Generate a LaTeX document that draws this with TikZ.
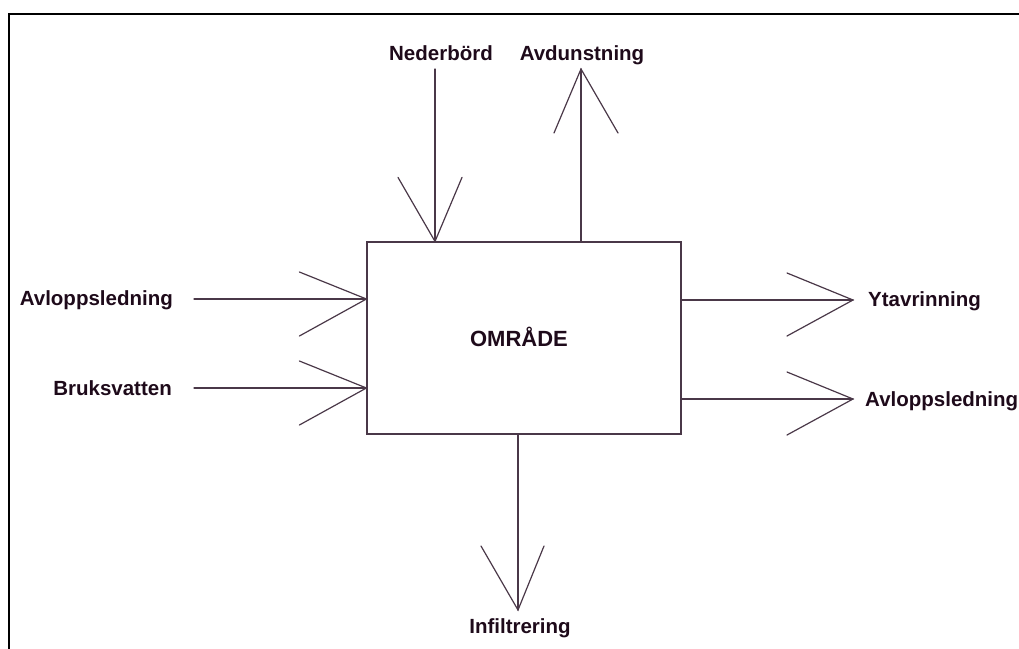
\documentclass[tikz,border=0pt]{standalone}
\usepackage{fontspec}
\setmainfont{Liberation Sans}
\definecolor{linec}{HTML}{4A3848}
\definecolor{textc}{HTML}{1E0A1A}
\tikzset{
  flow/.style={draw=linec, line width=1.2pt, line cap=round},
  lbl/.style={text=textc, font=\fontsize{20.5}{24}\selectfont\bfseries, inner sep=0pt},
}
\begin{document}
\begin{tikzpicture}[x=1pt,y=-1pt]
\useasboundingbox (0,0) rectangle (1019,648);
\clip (0,0) rectangle (1019,648);
% outer frame
\draw[black, line width=1.8pt] (9,700) -- (9,14) -- (1100,14);

% the area
\node[flow, minimum width=314pt, minimum height=192pt, inner sep=0pt] (area) at (524,338) {};
\node[lbl, font=\fontsize{22}{26}\selectfont\bfseries, anchor=base] (areatxt) at (519,346) {OMRÅDE};

% labels
\node[lbl, anchor=base] (ned) at (441,60) {Nederbörd};
\node[lbl, anchor=base] (avd) at (582,60) {Avdunstning};
\node[lbl, anchor=base east] (avlIn) at (173,305) {Avloppsledning};
\node[lbl, anchor=base east] (bruk) at (172,395) {Bruksvatten};
\node[lbl, anchor=base west] (yta) at (868,306) {Ytavrinning};
\node[lbl, anchor=base west] (avlOut) at (865,406) {Avloppsledning};
\node[lbl, anchor=base] (inf) at (520,633) {Infiltrering};

% Nederbörd (in, from above)
\coordinate (nedS) at (435,69);
\coordinate (nedT) at (area.north -| nedS);
\draw[flow] (nedS) -- (nedT);
\draw[flow] (nedT) ++(-37,-64) -- (nedT) -- ++(27,-64);

% Avdunstning (out, upwards)
\coordinate (avdE) at (581,69);
\coordinate (avdS) at (area.north -| avdE);
\draw[flow] (avdS) -- (avdE);
\draw[flow] (avdE) ++(-27,64) -- (avdE) -- ++(37,64);

% Avloppsledning (in, from the left)
\coordinate (avlInS) at (194,299);
\coordinate (avlInT) at (area.west |- avlInS);
\draw[flow] (avlInS) -- (avlInT);
\draw[flow] (avlInT) ++(-67,-27) -- (avlInT) -- ++(-67,37);

% Bruksvatten (in, from the left)
\coordinate (brukS) at (194,388);
\coordinate (brukT) at (area.west |- brukS);
\draw[flow] (brukS) -- (brukT);
\draw[flow] (brukT) ++(-67,-27) -- (brukT) -- ++(-67,37);

% Ytavrinning (out, to the right)
\coordinate (ytaE) at (853,300);
\coordinate (ytaS) at (area.east |- ytaE);
\draw[flow] (ytaS) -- (ytaE);
\draw[flow] (ytaE) ++(-66,-27) -- (ytaE) -- ++(-66,36);

% Avloppsledning (out, to the right)
\coordinate (avlOutE) at (853,399);
\coordinate (avlOutS) at (area.east |- avlOutE);
\draw[flow] (avlOutS) -- (avlOutE);
\draw[flow] (avlOutE) ++(-66,-27) -- (avlOutE) -- ++(-66,36);

% Infiltrering (out, downwards)
\coordinate (infE) at (518,610);
\coordinate (infS) at (area.south -| infE);
\draw[flow] (infS) -- (infE);
\draw[flow] (infE) ++(-37,-64) -- (infE) -- ++(26,-64);
\end{tikzpicture}
\end{document}
